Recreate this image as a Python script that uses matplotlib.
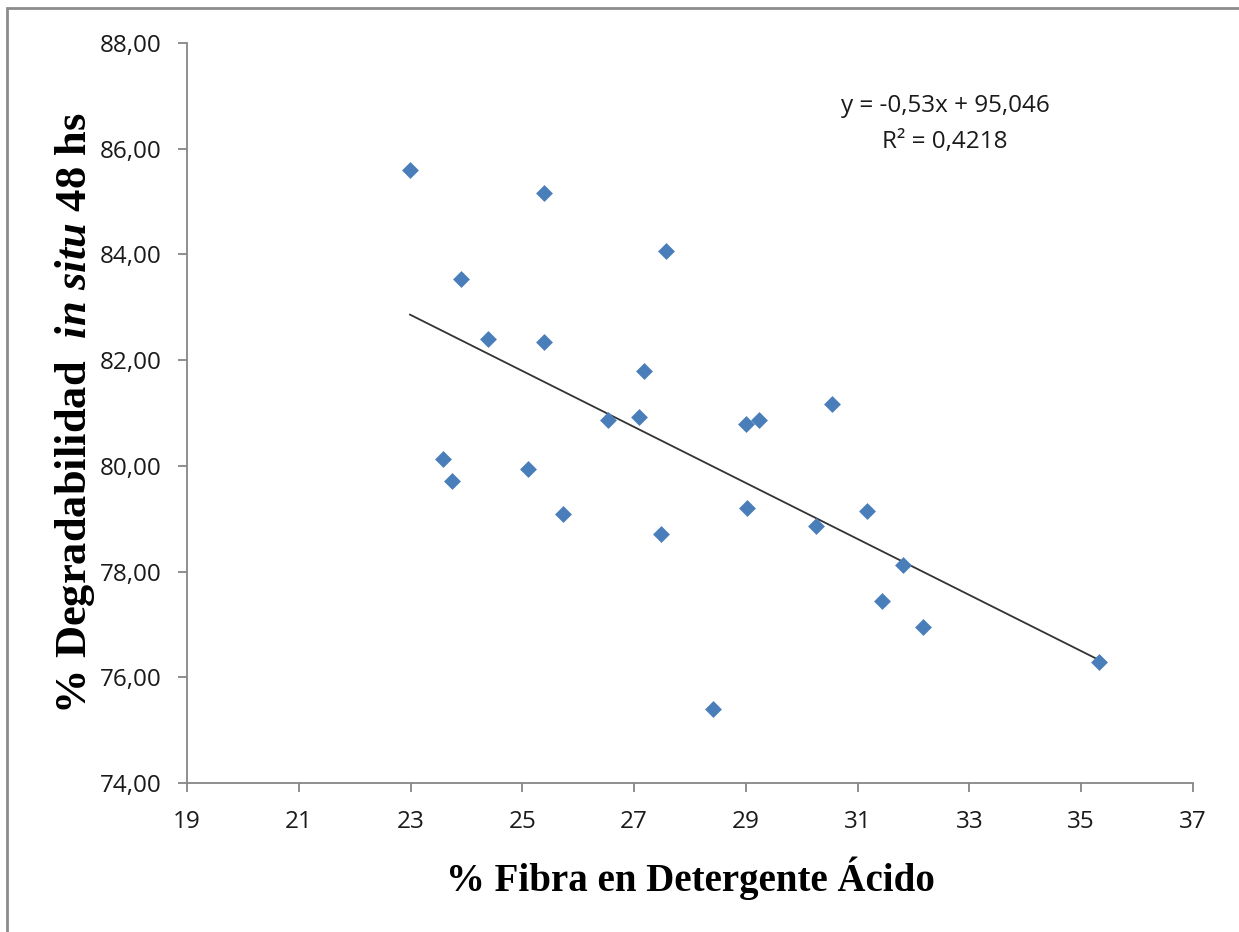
import numpy as np
import matplotlib.pyplot as plt
from matplotlib.patches import Rectangle

plt.rcParams['mathtext.fontset'] = 'custom'
plt.rcParams['mathtext.rm'] = 'Liberation Serif:bold'
plt.rcParams['mathtext.it'] = 'Liberation Serif:italic:bold'
plt.rcParams['mathtext.bf'] = 'Liberation Serif:bold'

fda = [22.99, 25.39, 27.57, 23.90, 24.39, 25.39, 27.18, 30.54, 27.09, 26.53,
       29.23, 29.00, 23.58, 25.10, 23.74, 25.73, 29.02, 31.17, 30.25, 27.48,
       31.81, 31.43, 32.17, 35.32, 28.41]
degr = [85.59, 85.16, 84.07, 83.54, 82.40, 82.34, 81.79, 81.17, 80.92, 80.87,
        80.87, 80.79, 80.13, 79.94, 79.71, 79.09, 79.20, 79.15, 78.86, 78.71,
        78.12, 77.44, 76.95, 76.29, 75.40]
slope, intercept = -0.53, 95.046
eq_text = "y = -0,53x + 95,046\nR² = 0,4218"

fig = plt.figure(figsize=(12.39, 9.32), dpi=100)
ax = fig.add_axes([187/1239, 1-783/932, (1193-187)/1239, (783-43)/932])

# outer chart frame
fig.patches.append(Rectangle((7/1239, -0.05), 1.1, 1-8/932+0.05, transform=fig.transFigure,
                             fill=False, edgecolor='#8c8c8c', linewidth=2))

ax.scatter(fda, degr, marker='D', s=8.6**2, color='#4a7ebb', zorder=3, linewidths=0)
xs = np.array([min(fda), max(fda)])
ax.plot(xs, slope*xs + intercept, color='#333333', lw=1.3, zorder=2)

ax.set_xlim(19, 37)
ax.set_ylim(74, 88)
ax.set_xticks(np.arange(19, 38, 2))
ax.set_yticks(np.arange(74, 89, 2))
ax.set_yticklabels([f"{v:.2f}".replace('.', ',') for v in np.arange(74, 89, 2)])
for s in ['top', 'right']:
    ax.spines[s].set_visible(False)
for s in ['left', 'bottom']:
    ax.spines[s].set_color('#868686')
    ax.spines[s].set_linewidth(1.3)
ax.tick_params(direction='out', length=6.5, width=1.3, color='#868686', labelsize=17.5)
ax.tick_params(axis='x', pad=13)
ax.tick_params(axis='y', pad=12)
for lab in ax.get_xticklabels() + ax.get_yticklabels():
    lab.set_fontfamily('Open Sans')
    lab.set_color('#1a1a1a')

ax.set_xlabel('% Fibra en Detergente Ácido', fontfamily='Liberation Serif',
              fontweight='bold', fontsize=28, labelpad=16)
ax.set_ylabel(r'$\mathrm{\%\ Degradabilidad\ \ }\mathit{in\ situ}\mathrm{\ 48\ hs}$',
              fontsize=32, labelpad=2)

ax.text((945-187)/(1193-187), 1 - (124-43)/740, eq_text, transform=ax.transAxes,
        fontfamily='Open Sans', fontsize=17.5, ha='center', va='center',
        color='#1a1a1a', linespacing=1.7)

fig.savefig('out.png', dpi=100)
